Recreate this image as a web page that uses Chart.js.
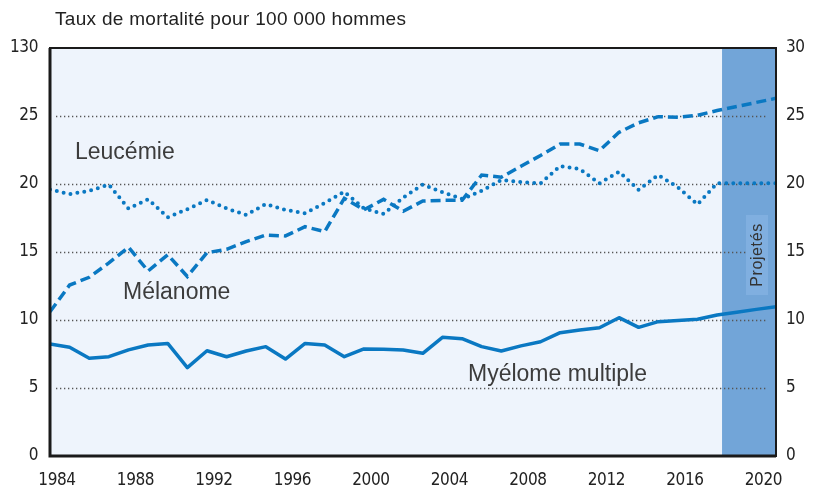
<!DOCTYPE html>
<html lang="fr">
<head>
<meta charset="utf-8">
<title>Taux de mortalité pour 100 000 hommes</title>
<script src="https://cdn.jsdelivr.net/npm/chart.js@4"></script>
<style>
  html, body { margin: 0; padding: 0; background: #fff; }
  #wrap { width: 818px; height: 486px; position: relative; }
</style>
</head>
<body>
<div id="wrap"><canvas id="chart" width="818" height="486"></canvas></div>
<script>
"use strict";

// ---------- Data ----------
const years = [1984, 1985, 1986, 1987, 1988, 1989, 1990, 1991, 1992, 1993,
  1994, 1995, 1996, 1997, 1998, 1999, 2000, 2001, 2002, 2003,
  2004, 2005, 2006, 2007, 2008, 2009, 2010, 2011, 2012, 2013,
  2014, 2015, 2016, 2017, 2018, 2019, 2020, 2021];

const leucemie = [19.6, 19.26, 19.5, 19.95, 18.2, 18.87, 17.55, 18.15, 18.82, 18.2,
  17.72, 18.53, 18.1, 17.85, 18.6, 19.43, 18.2, 17.8, 19.0, 19.96,
  19.4, 18.9, 19.5, 20.3, 20.15, 20.05, 21.32, 21.1, 20.05, 20.9,
  19.56, 20.66, 19.76, 18.5, 20.05, 20.05, 20.05, 20.05];

const melanome = [10.6, 12.57, 13.14, 14.2, 15.35, 13.6, 14.8, 13.2, 14.95, 15.2,
  15.76, 16.25, 16.18, 16.86, 16.5, 18.95, 18.1, 18.87, 18.0, 18.75,
  18.8, 18.8, 20.66, 20.5, 21.3, 22.1, 22.94, 22.94, 22.45, 23.8,
  24.5, 24.95, 24.9, 25.05, 25.4, 25.7, 26.0, 26.3];

const myelome = [8.24, 8.0, 7.18, 7.3, 7.8, 8.16, 8.28, 6.5, 7.74, 7.3,
  7.72, 8.04, 7.13, 8.28, 8.16, 7.3, 7.87, 7.85, 7.8, 7.55,
  8.73, 8.63, 8.04, 7.72, 8.1, 8.4, 9.07, 9.27, 9.43, 10.17,
  9.46, 9.88, 9.96, 10.05, 10.37, 10.57, 10.78, 10.98];

const xTickYears = [1984, 1988, 1992, 1996, 2000, 2004, 2008, 2012, 2016, 2020];
const yTickValues = [0, 5, 10, 15, 20, 25, 30];
const leftTickLabels = ["0", "5", "10", "15", "20", "25", "130"];
const rightTickLabels = ["0", "5", "10", "15", "20", "25", "30"];
const gridValues = [5, 10, 15, 20, 25];

const PROJECTION_START = 2018.25;
const TITLE = "Taux de mortalité pour 100 000 hommes";
const PROJ_LABEL = "Projetés";

// ---------- Styles ----------
const BLUE = "#0a78c2";
const PLOT_BG = "#eef4fc";
const PROJ_BG = "#72a5d8";
const PROJ_BOX = "#80afe0";
const TEXT = "#222";
const TICK_FONT = { family: "'Liberation Sans Narrow', 'DejaVu Sans Condensed', sans-serif", size: 17 };

const seriesLabels = [
  { text: "Leucémie", x: 75, y: 159 },
  { text: "Mélanome", x: 123, y: 299 },
  { text: "Myélome multiple", x: 468, y: 381 }
];

function toPoints(values) {
  return values.map((v, i) => ({ x: years[i], y: v }));
}

// ---------- Plugin: background, grid, frame, texts ----------
const decor = {
  id: "decor",
  beforeDraw(c) {
    const { ctx, chartArea: a, scales } = c;
    ctx.letterSpacing = "-0.4px";
    ctx.save();
    ctx.fillStyle = PLOT_BG;
    ctx.fillRect(a.left, a.top, a.right - a.left, a.bottom - a.top);
    const px = scales.x.getPixelForValue(PROJECTION_START);
    ctx.fillStyle = PROJ_BG;
    ctx.fillRect(px, a.top, a.right - px, a.bottom - a.top);
    ctx.restore();
  },
  beforeDatasetsDraw(c) {
    const { ctx, chartArea: a, scales } = c;
    ctx.save();
    ctx.strokeStyle = "#555";
    ctx.lineWidth = 1.3;
    ctx.setLineDash([1.3, 2.7]);
    for (const v of gridValues) {
      const y = Math.round(scales.y.getPixelForValue(v)) + 0.5;
      ctx.beginPath();
      ctx.moveTo(a.left + 6, y);
      ctx.lineTo(a.right - 8, y);
      ctx.stroke();
    }
    ctx.setLineDash([]);

    // "Projetés" box
    ctx.fillStyle = PROJ_BOX;
    ctx.fillRect(746, 215, 22, 80);
    ctx.translate(758, 255);
    ctx.rotate(-Math.PI / 2);
    ctx.fillStyle = "#333";
    ctx.font = "16px 'Liberation Sans Narrow', sans-serif";
    ctx.letterSpacing = "0.6px";
    ctx.textAlign = "center";
    ctx.textBaseline = "middle";
    ctx.fillText(PROJ_LABEL, 0, 0);
    ctx.restore();
  },
  afterDatasetsDraw(c) {
    const { ctx, chartArea: a } = c;
    ctx.save();
    ctx.strokeStyle = "#1a1a1a";
    ctx.lineWidth = 2;
    ctx.strokeRect(a.left, a.top, a.right - a.left, a.bottom - a.top);
    ctx.lineWidth = 3;
    ctx.beginPath();
    ctx.moveTo(a.left, a.top);
    ctx.lineTo(a.left, a.bottom);
    ctx.lineTo(a.right, a.bottom);
    ctx.stroke();

    ctx.fillStyle = "#3c3c3c";
    ctx.font = "23px 'Liberation Sans', Arial, sans-serif";
    ctx.letterSpacing = "0px";
    ctx.textBaseline = "alphabetic";
    for (const l of seriesLabels) ctx.fillText(l.text, l.x, l.y);

    ctx.fillStyle = TEXT;
    ctx.font = "19px 'Liberation Sans Narrow', sans-serif";
    ctx.letterSpacing = "0.3px";
    ctx.fillText(TITLE, 55, 25);
    ctx.restore();
  }
};

// ---------- Chart ----------
const chart = new Chart(document.getElementById("chart"), {
  type: "line",
  data: {
    datasets: [
      {
        label: "Leucémie",
        data: toPoints(leucemie),
        borderColor: BLUE,
        borderWidth: 4,
        borderDash: [0, 7],
        borderCapStyle: "round"
      },
      {
        label: "Mélanome",
        data: toPoints(melanome),
        borderColor: BLUE,
        borderWidth: 3.5,
        borderDash: [10, 5]
      },
      {
        label: "Myélome multiple",
        data: toPoints(myelome),
        borderColor: BLUE,
        borderWidth: 3.5,
        borderJoinStyle: "round"
      }
    ]
  },
  options: {
    responsive: false,
    animation: false,
    layout: { padding: { top: 48 } },
    elements: { point: { radius: 0 }, line: { tension: 0 } },
    plugins: { legend: { display: false }, tooltip: { enabled: false } },
    scales: {
      x: {
        type: "linear",
        min: 1984,
        max: 2021,
        afterBuildTicks: s => { s.ticks = xTickYears.map(v => ({ value: v })); },
        afterFit: s => { s.height = 30; },
        grid: { display: false, drawTicks: false },
        border: { display: false },
        ticks: {
          autoSkip: false,
          maxRotation: 0,
          padding: 14,
          labelOffset: 7,
          color: TEXT,
          font: TICK_FONT,
          callback: v => String(v)
        }
      },
      y: {
        position: "left",
        min: 0,
        max: 30,
        afterBuildTicks: s => { s.ticks = yTickValues.map(v => ({ value: v })); },
        afterFit: s => { s.width = 50; },
        grid: { display: false, drawTicks: false },
        border: { display: false },
        ticks: {
          padding: 12,
          color: TEXT,
          font: TICK_FONT,
          callback: (v, i) => leftTickLabels[i]
        }
      },
      y2: {
        position: "right",
        min: 0,
        max: 30,
        afterBuildTicks: s => { s.ticks = yTickValues.map(v => ({ value: v })); },
        afterFit: s => { s.width = 42; },
        grid: { display: false, drawTicks: false },
        border: { display: false },
        ticks: {
          padding: 10,
          color: TEXT,
          font: TICK_FONT,
          callback: (v, i) => rightTickLabels[i]
        }
      }
    }
  },
  plugins: [decor]
});
</script>
</body>
</html>
